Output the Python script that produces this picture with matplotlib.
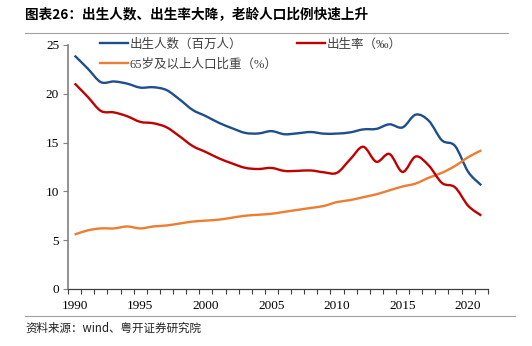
import matplotlib.pyplot as plt
import numpy as np
from matplotlib.path import Path
from matplotlib.patches import PathPatch
from matplotlib.lines import Line2D

plt.rcParams['font.family'] = ['Liberation Serif', 'Noto Sans CJK SC']

years = list(range(1990, 2022))
births = [23.91, 22.58, 21.19, 21.26, 21.04, 20.63, 20.67, 20.38, 19.42, 18.34,
          17.71, 17.02, 16.47, 15.99, 15.93, 16.17, 15.85, 15.95, 16.08, 15.91,
          15.92, 16.04, 16.35, 16.40, 16.87, 16.55, 17.86, 17.23, 15.23, 14.65,
          12.00, 10.62]
birth_rate = [21.06, 19.68, 18.24, 18.09, 17.70, 17.12, 16.98, 16.57, 15.64, 14.64,
              14.03, 13.38, 12.86, 12.41, 12.29, 12.40, 12.09, 12.10, 12.14, 11.95,
              11.90, 13.27, 14.57, 13.03, 13.83, 11.99, 13.57, 12.64, 10.86, 10.41,
              8.52, 7.52]
aged_share = [5.57, 6.0, 6.2, 6.2, 6.4, 6.2, 6.4, 6.5, 6.7, 6.9,
              7.0, 7.1, 7.3, 7.5, 7.6, 7.7, 7.9, 8.1, 8.3, 8.5,
              8.9, 9.1, 9.4, 9.7, 10.1, 10.5, 10.8, 11.4, 11.9, 12.6,
              13.5, 14.2]

labels = ['出生人数（百万人）', '65岁及以上人口比重（%）', '出生率（‰）']
colors = ['#1f4e8c', '#ed7d31', '#c00000']


def smooth_path(x, y):
    # Excel-style smoothed line: cubic bezier through every point
    x = np.asarray(x, float)
    y = np.asarray(y, float)
    verts = [(x[0], y[0])]
    codes = [Path.MOVETO]
    n = len(x)
    for i in range(n - 1):
        x0, y0 = (x[i - 1], y[i - 1]) if i > 0 else (x[i], y[i])
        x3, y3 = (x[i + 2], y[i + 2]) if i + 2 < n else (x[i + 1], y[i + 1])
        c1 = (x[i] + (x[i + 1] - x0) / 6, y[i] + (y[i + 1] - y0) / 6)
        c2 = (x[i + 1] - (x3 - x[i]) / 6, y[i + 1] - (y3 - y[i]) / 6)
        verts += [c1, c2, (x[i + 1], y[i + 1])]
        codes += [Path.CURVE4] * 3
    return Path(verts, codes)


fig = plt.figure(figsize=(5.32, 3.46), dpi=100)
ax = fig.add_axes([0.128, 0.165, 0.789, 0.705])

series = [births, aged_share, birth_rate]
handles = []
for vals, c, lab in zip(series, colors, labels):
    ax.add_patch(PathPatch(smooth_path(years, vals), facecolor='none',
                           edgecolor=c, lw=1.7, capstyle='butt'))
    handles.append(Line2D([], [], color=c, lw=1.7, label=lab))

ax.set_xlim(1989.5, 2021.5)
ax.set_ylim(0, 25)
ax.set_yticks([0, 5, 10, 15, 20, 25])
ax.set_xticks(np.arange(1989.5, 2022, 1), minor=True)
ax.set_xticks([1990, 1995, 2000, 2005, 2010, 2015, 2020])
ax.tick_params(axis='x', which='major', length=0, labelsize=9.5, pad=8)
ax.tick_params(axis='x', which='minor', length=3.5, width=0.8, color='#404040')
ax.tick_params(axis='y', length=3.5, width=0.8, color='#808080', labelsize=9.5, pad=3)
for s in ['top', 'right']:
    ax.spines[s].set_visible(False)
ax.spines['left'].set_color('#808080')
ax.spines['left'].set_linewidth(1.2)
ax.spines['bottom'].set_color('#404040')
ax.spines['bottom'].set_linewidth(0.9)

leg = ax.legend(handles=handles, ncol=2, frameon=False, loc='upper left',
                bbox_to_anchor=(0.188, 0.889), bbox_transform=fig.transFigure,
                fontsize=9, handlelength=2.2, handletextpad=0.15,
                columnspacing=1.6, labelspacing=0.62, borderaxespad=0,
                borderpad=0)
for t in leg.get_texts():
    t.set_color('#404040')

fig.text(0.047, 0.96, '图表26：出生人数、出生率大降，老龄人口比例快速上升',
         fontsize=9.8, fontweight='bold', family=['Noto Sans CJK SC'], va='center')
fig.add_artist(Line2D([0.047, 0.955], [0.905, 0.905], color='#a0a0a0', lw=0.8,
                      transform=fig.transFigure))
fig.add_artist(Line2D([0.047, 0.968], [0.087, 0.087], color='#a0a0a0', lw=0.8,
                      transform=fig.transFigure))
fig.text(0.047, 0.052, '资料来源：wind、粤开证券研究院', fontsize=8.3,
         style='italic', family=['Noto Sans CJK SC', 'DejaVu Sans'], va='center',
         color='#202020')

fig.savefig('out.png', dpi=100)
